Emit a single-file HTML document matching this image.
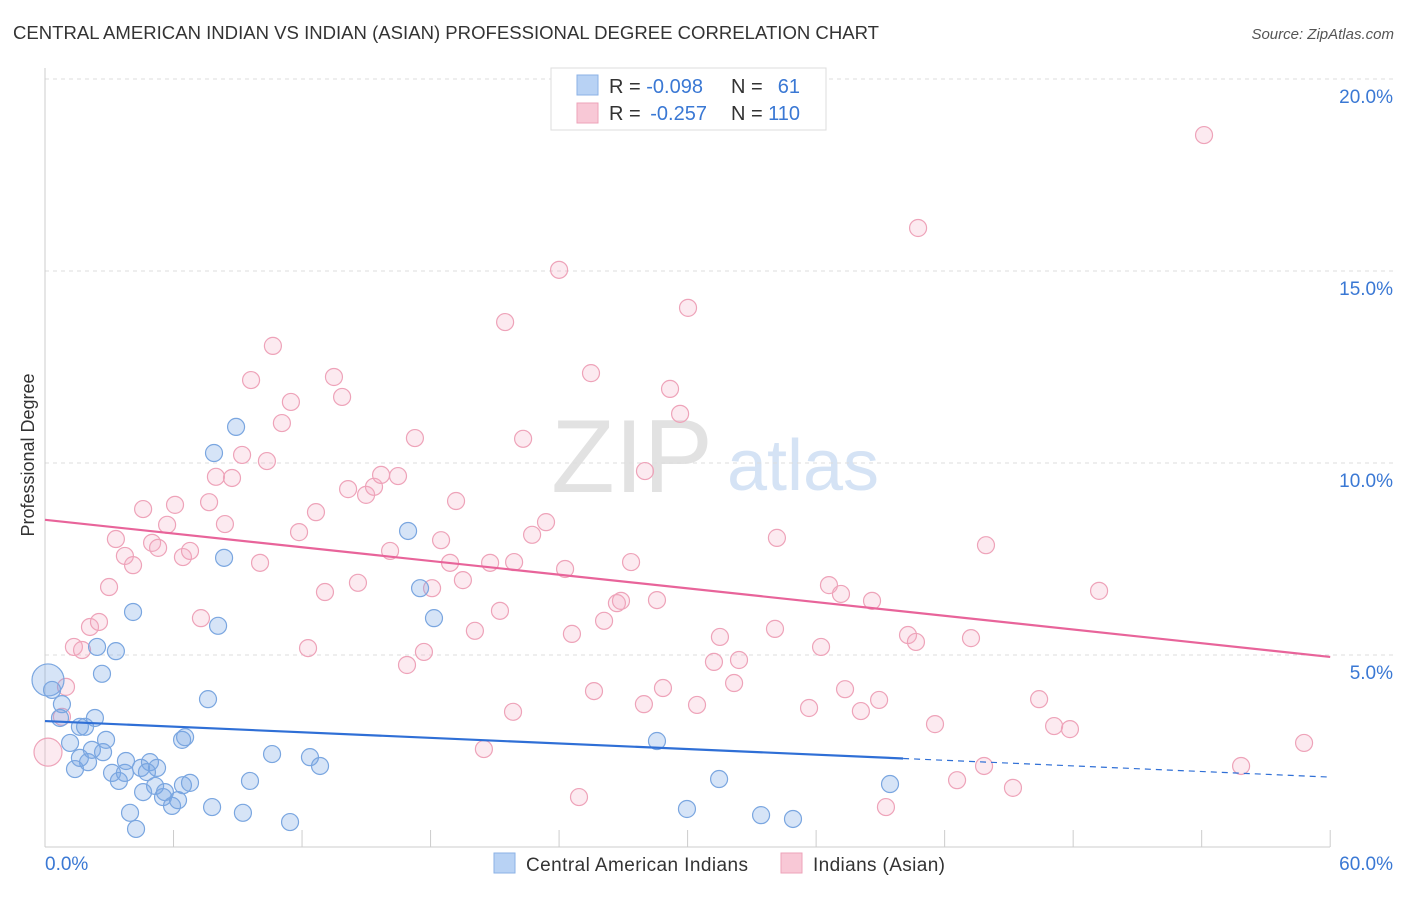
<!DOCTYPE html>
<html><head><meta charset="utf-8"><style>
body{margin:0;background:#fff;font-family:"Liberation Sans",sans-serif}
svg text{font-family:"Liberation Sans",sans-serif}
</style></head><body>
<svg id="c" width="1406" height="892">
<text x="13" y="39" font-size="18" fill="#333" textLength="866" lengthAdjust="spacingAndGlyphs">CENTRAL AMERICAN INDIAN VS INDIAN (ASIAN) PROFESSIONAL DEGREE CORRELATION CHART</text>
<text x="1394" y="39" font-size="15" fill="#555" font-style="italic" text-anchor="end">Source: ZipAtlas.com</text>
<text transform="translate(34,455) rotate(-90)" font-size="18" fill="#333" text-anchor="middle">Professional Degree</text>
<g><text x="632" y="492" font-size="104" fill="#e2e2e2" font-family="Liberation Serif" text-anchor="middle">ZIP</text><text x="803" y="490" font-size="72" fill="#d5e3f5" text-anchor="middle">atlas</text></g>
<g id="grid"></g><g id="marks"></g>
<g>
<rect x="551" y="68" width="275" height="62" fill="#fff" stroke="#ddd"/>
<rect x="577" y="75" width="21" height="20" fill="#b8d2f4" stroke="#8bb2e6"/>
<rect x="577" y="103" width="21" height="20" fill="#f8c8d6" stroke="#eea3b9"/>
<text x="609" y="93" font-size="20" fill="#333">R = <tspan fill="#3a78d4">-0.098</tspan></text>
<text x="731" y="93" font-size="20" fill="#333">N = </text><text x="800" y="93" font-size="20" fill="#3a78d4" text-anchor="end">61</text>
<text x="609" y="120" font-size="20" fill="#333">R = <tspan fill="#3a78d4" dx="4">-0.257</tspan></text>
<text x="731" y="120" font-size="20" fill="#333">N = </text><text x="800" y="120" font-size="20" fill="#3a78d4" text-anchor="end">110</text>
</g>
<g>
<rect x="494" y="853" width="21" height="20" fill="#b8d2f4" stroke="#8bb2e6"/>
<text x="526" y="871" font-size="19" fill="#333" textLength="222">Central American Indians</text>
<rect x="781" y="853" width="21" height="20" fill="#f8c8d6" stroke="#eea3b9"/>
<text x="813" y="871" font-size="19" fill="#333" textLength="132">Indians (Asian)</text>
</g>
</svg>
<script>
const yTicks=[5,10,15,20];
const xTickLabels=["0.0%","60.0%"];
const blueX=[0.14,0.33,0.79,0.70,2.33,1.17,1.63,1.87,1.40,1.63,2.01,2.19,2.71,2.85,2.43,3.31,2.66,4.11,3.13,3.45,3.73,3.78,4.48,4.90,5.23,4.76,5.14,4.58,3.97,4.25,5.51,5.93,5.60,6.21,6.44,6.77,7.80,9.24,9.57,6.40,6.54,7.61,8.08,8.36,7.89,8.92,10.60,11.44,12.37,12.84,16.95,17.51,18.16,28.57,29.97,31.47,33.43,34.92,39.45];
const blueY=[4.35,4.09,3.72,3.36,3.36,2.71,3.13,3.13,2.03,2.32,2.21,2.53,2.47,2.79,5.21,5.10,4.51,6.12,1.93,1.72,1.93,2.24,2.06,2.21,2.06,1.95,1.59,1.43,0.89,0.47,1.30,1.07,1.43,1.22,1.61,1.67,1.04,0.89,1.72,2.79,2.86,3.85,5.76,7.53,10.26,10.94,2.42,0.65,2.34,2.11,8.23,6.74,5.96,2.76,0.99,1.77,0.83,0.73,1.64];
const pinkX=[0.14,0.98,0.79,1.35,1.73,2.10,2.52,2.99,3.31,3.73,4.11,4.58,5.00,5.28,5.70,6.07,6.44,6.77,7.28,7.66,7.98,8.40,8.73,9.20,9.62,10.04,10.36,10.64,11.06,11.48,11.86,12.28,12.65,13.07,13.49,13.87,14.15,14.61,14.99,15.36,15.69,16.11,16.48,16.90,17.27,17.69,18.07,18.49,18.91,19.19,19.51,20.07,20.49,20.78,21.24,21.48,21.90,21.85,22.32,22.74,23.39,24.00,24.28,24.60,24.93,25.49,25.63,26.10,26.70,26.89,27.36,28.01,27.96,28.57,28.85,29.18,29.65,30.02,30.44,31.23,31.51,32.17,32.40,34.08,34.17,35.67,36.23,36.60,37.16,37.35,38.09,38.61,38.94,39.26,40.29,40.66,40.76,41.55,42.58,43.23,43.84,43.93,45.19,46.41,47.11,47.85,49.21,54.11,55.84,58.78];
const pinkY=[2.47,4.17,3.39,5.21,5.13,5.73,5.86,6.77,8.02,7.58,7.34,8.80,7.92,7.79,8.39,8.91,7.55,7.71,5.96,8.98,9.64,8.41,9.61,10.21,12.16,7.40,10.05,13.05,11.04,11.59,8.20,5.18,8.72,6.64,12.24,11.72,9.32,6.88,9.17,9.38,9.69,7.71,9.66,4.74,10.65,5.08,6.74,7.99,7.40,9.01,6.95,5.63,2.55,7.40,6.15,13.67,7.42,3.52,10.63,8.13,8.46,15.03,7.24,5.55,1.30,12.34,4.06,5.89,6.35,6.41,7.42,9.79,3.72,6.43,4.14,11.93,11.28,14.04,3.70,4.82,5.47,4.27,4.87,5.68,8.05,3.62,5.21,6.82,6.59,4.11,3.54,6.41,3.83,1.04,5.52,5.34,16.12,3.20,1.74,5.44,2.11,7.86,1.54,3.85,3.15,3.07,6.67,18.54,2.11,2.71];
const blueTrend=[3.28,1.82], pinkTrend=[8.52,4.95];
const NS="http://www.w3.org/2000/svg";
const X=v=>45+v*21.42, Y=v=>847-v*38.4;
function mk(t,a,p){const e=document.createElementNS(NS,t);for(const k in a)e.setAttribute(k,a[k]);p.appendChild(e);return e;}
const g=document.getElementById('grid'), m=document.getElementById('marks');
yTicks.forEach(t=>{
 const l=mk('line',{x1:45,x2:1393,y1:Y(t),y2:Y(t),stroke:'#ddd','stroke-dasharray':'4,4'},g);
 
 
 const tx=mk('text',{x:1393,y:Y(t)+24,'font-size':19,fill:'#3a78d4','text-anchor':'end'},g);
 tx.textContent=t.toFixed(1)+'%';
 
 
});
mk('line',{x1:45,x2:45,y1:68,y2:847,stroke:'#ccc'},g);
mk('line',{x1:45,x2:1330,y1:847,y2:847,stroke:'#ccc'},g);
for(let i=0;i<=10;i++){mk('line',{x1:X(i*6),x2:X(i*6),y1:830,y2:847,stroke:'#ccc'},g);}
const xl0=mk('text',{x:45,y:870,'font-size':19,fill:'#3a78d4'},g);xl0.textContent=xTickLabels[0];


const xl1=mk('text',{x:1393,y:870,'font-size':19,fill:'#3a78d4','text-anchor':'end'},g);xl1.textContent=xTickLabels[1];


function pts(xs,ys,fill,stroke,name,bigR){
 xs.forEach((x,i)=>{
  const c=mk('circle',{cx:X(x),cy:Y(ys[i]),r:i===0?bigR:8.5,fill:fill,stroke:stroke,'stroke-width':1.2},m);
  
  
 });
}
pts(pinkX,pinkY,'rgba(244,170,195,0.25)','#eea3b9','point-indian-asian',14);
pts(blueX,blueY,'rgba(120,165,230,0.3)','#7aa6e0','point-central-american',16);
const bEnd=40.06, bAt=v=>blueTrend[0]+(blueTrend[1]-blueTrend[0])*v/60;
const bl=mk('line',{x1:X(0),y1:Y(blueTrend[0]),x2:X(bEnd),y2:Y(bAt(bEnd)),stroke:'#2f6fd6','stroke-width':2.2},m);


const bd=mk('line',{x1:X(bEnd),y1:Y(bAt(bEnd)),x2:X(60),y2:Y(blueTrend[1]),stroke:'#2f6fd6','stroke-width':1.2,'stroke-dasharray':'6,5'},m);


const pl=mk('line',{x1:X(0),y1:Y(pinkTrend[0]),x2:X(60),y2:Y(pinkTrend[1]),stroke:'#e8649a','stroke-width':2.2},m);


</script>
</body></html>
